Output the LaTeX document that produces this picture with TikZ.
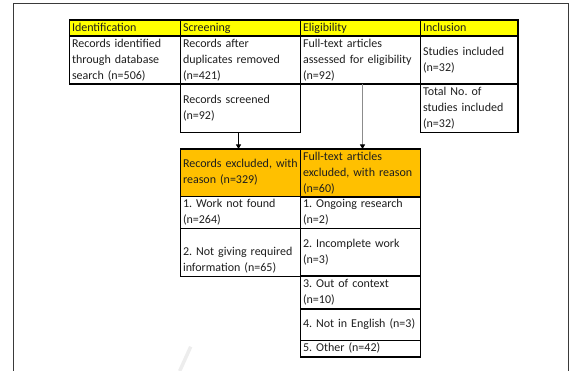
\documentclass[tikz,border=0pt]{standalone}
\usepackage{fontspec}
\setmainfont{Carlito}
\frenchspacing
\usetikzlibrary{arrows.meta}
\definecolor{hdryellow}{HTML}{FFFF00}
\definecolor{excorange}{HTML}{FFC000}
\definecolor{inktext}{HTML}{1E1E1E}
\definecolor{framegray}{HTML}{3A3A3A}
\definecolor{linkgray}{HTML}{8C8C8C}
\definecolor{markgray}{HTML}{EDEDED}
\begin{document}
\begin{tikzpicture}[x=1pt,y=-1pt,
  cell/.style={draw=black, line width=1.25pt, rectangle, anchor=north west,
    outer sep=0pt, inner xsep=2.5pt, inner ysep=0pt, align=left, text=inktext,
    font=\fontsize{12}{16}\selectfont\frenchspacing,
    execute at begin node=\strut, execute at end node=\strut},
  hdr/.style={cell, fill=hdryellow},
  exc/.style={cell, fill=excorange},
  colA/.style={minimum width=111pt, text width=106pt},
  colB/.style={minimum width=120pt, text width=115pt},
  colC/.style={minimum width=120pt, text width=115pt},
  colD/.style={minimum width=97.5pt, text width=92.5pt},
  link/.style={line width=0.8pt, -{Triangle[length=4.5pt,width=5pt,color=black]}}
]
\useasboundingbox (0,0) rectangle (575,371);

% page frame
\draw[framegray, line width=1pt] (13,371) -- (13,4) -- (568,4) -- (568,371);
% faint stroke near the lower edge
\draw[markgray, line width=3.5pt] (190.7,346.7) -- (179.7,371);

% phase headers
\node[hdr, colA, minimum height=16pt] (hId) at (69.5,20) {Identification};
\node[hdr, colB, minimum height=16pt] (hSc) at (180.5,20) {Screening};
\node[hdr, colC, minimum height=16pt] (hEl) at (300.5,20) {Eligibility};
\node[hdr, colD, minimum height=16pt] (hIn) at (420.5,20) {Inclusion};

% first row
\node[cell, colA, minimum height=48pt] (cId) at (69.5,36) {Records identified\\through database\\search (n=506)};
\node[cell, colB, minimum height=48pt] (cSc) at (180.5,36) {Records after\\duplicates removed\\(n=421)};
\node[cell, colC, minimum height=48pt] (cEl) at (300.5,36) {Full-text articles\\assessed for eligibility\\(n=92)};
\node[cell, colD, minimum height=48pt] (cIn) at (420.5,36) {Studies included\\(n=32)};

% second row
\node[cell, colB, minimum height=48.5pt] (cScr) at (180.5,84) {Records screened\\(n=92)};
\node[cell, colD, minimum height=48.5pt] (cTot) at (420.5,84) {Total No. of\\studies included\\(n=32)};

% exclusion headers
\node[exc, colB, minimum height=47.5pt] (xRec) at (180.5,149) {Records excluded, with\\reason (n=329)};
\node[exc, colC, minimum height=47.5pt] (xFt) at (300.5,149) {Full-text articles\\excluded, with reason\\(n=60)};

% exclusion reasons, screening
\node[cell, colB, minimum height=32pt] (xR1) at (180.5,196.5) {1. Work not found\\(n=264)};
\node[cell, colB, minimum height=47.5pt] (xR2) at (180.5,228.5) {\mbox{}\\2. Not giving required\\information (n=65)};

% exclusion reasons, eligibility
\node[cell, colC, minimum height=32pt] (xF1) at (300.5,196.5) {1. Ongoing research\\(n=2)};
\node[cell, colC, minimum height=47.5pt] (xF2) at (300.5,228.5) {2. Incomplete work\\(n=3)};
\node[cell, colC, minimum height=33pt] (xF3) at (300.5,276) {3. Out of context\\(n=10)};
\node[cell, colC, minimum height=31.5pt] (xF4) at (300.5,309) {4. Not in English (n=3)};
\node[cell, colC, minimum height=16.5pt] (xF5) at (300.5,340.5) {5. Other (n=42)};

% flow arrows
\draw[link, black] ([xshift=-2pt]cScr.south) -- ([xshift=-2pt]xRec.north);
\draw[link, linkgray] ([xshift=2pt]cEl.south) -- ([xshift=2pt]xFt.north);
\end{tikzpicture}
\end{document}
